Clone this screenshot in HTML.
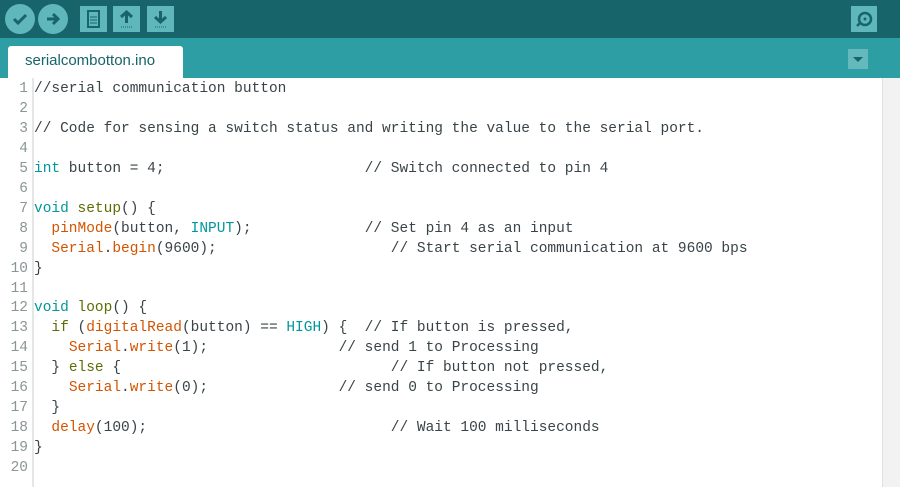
<!DOCTYPE html>
<html><head><style>
*{margin:0;padding:0;box-sizing:border-box}
body{width:900px;height:487px;overflow:hidden;background:#fff;position:relative;font-family:"Liberation Sans",sans-serif}
#tb{position:absolute;left:0;top:0;width:900px;height:38px;background:#17646a}
#tabs{position:absolute;left:0;top:38px;width:900px;height:40px;background:#2e9ea5}
.cb{position:absolute;top:4px;width:30px;height:30px;border-radius:50%;background:#5fb7bb}
.sb{position:absolute;top:6px;width:27px;height:26px;background:#5fb7bb}
#tab{position:absolute;left:8px;top:46px;width:175px;height:32px;background:#fff;border-radius:3px 3px 0 0;color:#17646a;font-size:15px;padding:6px 0 0 17px}
#dd{position:absolute;left:848px;top:49px;width:20px;height:20px;background:#64b9bd}
#ed{position:absolute;left:0;top:78px;width:882px;height:409px;background:#fff}
#sc{position:absolute;left:882px;top:78px;width:18px;height:409px;background:#f2f2f2;border-left:1px solid #e0e0e0}
#gut{position:absolute;left:32px;top:78px;width:2px;height:409px;background:#e6e6e6}
pre{position:absolute;top:80px;font-family:"Liberation Mono",monospace;font-size:14.5px;line-height:19.95px;color:#3a4448}
#ln{left:0;width:28px;text-align:right;color:#8a9597}
#code{left:34px}
.k{color:#00979c}.f{color:#5e6d03}.o{color:#d35400}
</style></head><body>
<div id="tb">
<div class="cb" style="left:5px"><svg width="30" height="30"><path d="M9 15l4 4 8-8" stroke="#17646a" stroke-width="3" fill="none"/></svg></div>
<div class="cb" style="left:38px"><svg width="30" height="30"><path d="M9 15h11M15 10l5 5-5 5" stroke="#17646a" stroke-width="3" fill="none"/></svg></div>
<div class="sb" style="left:80px"><svg width="27" height="26"><rect x="8" y="5" width="11" height="16" fill="none" stroke="#17646a" stroke-width="2"/><path d="M10 11h7M10 14h7M10 17h7" stroke="#17646a"/></svg></div>
<div class="sb" style="left:113px"><svg width="27" height="26"><path d="M13.5 6v11M8 11l5.5-5 5.5 5" stroke="#17646a" stroke-width="3" fill="none"/><path d="M8 21h11" stroke="#17646a" stroke-dasharray="1 1"/></svg></div>
<div class="sb" style="left:147px"><svg width="27" height="26"><path d="M13.5 5v11M8 11l5.5 5 5.5-5" stroke="#17646a" stroke-width="3" fill="none"/><path d="M8 21h11" stroke="#17646a" stroke-dasharray="1 1"/></svg></div>
<div class="sb" style="left:851px;width:26px"><svg width="26" height="26"><circle cx="14" cy="13" r="6" fill="none" stroke="#17646a" stroke-width="2.5"/><circle cx="14" cy="13" r="1.5" fill="#17646a"/><path d="M9 17l-3 3" stroke="#17646a" stroke-width="2.5"/></svg></div>
</div>
<div id="tabs"></div>
<div id="tab">serialcombotton.ino</div>
<div id="dd"><svg width="20" height="20"><path d="M5 8h10l-5 5z" fill="#17646a"/></svg></div>
<div id="ed"></div><div id="sc"></div><div id="gut"></div>
<pre id="ln">1
2
3
4
5
6
7
8
9
10
11
12
13
14
15
16
17
18
19
20</pre>
<pre id="code">//serial communication button

// Code for sensing a switch status and writing the value to the serial port.

<span class="k">int</span> button = 4;                       // Switch connected to pin 4

<span class="k">void</span> <span class="f">setup</span>() {
  <span class="o">pinMode</span>(button, <span class="k">INPUT</span>);             // Set pin 4 as an input
  <span class="o">Serial</span>.<span class="o">begin</span>(9600);                    // Start serial communication at 9600 bps
}

<span class="k">void</span> <span class="f">loop</span>() {
  <span class="f">if</span> (<span class="o">digitalRead</span>(button) == <span class="k">HIGH</span>) {  // If button is pressed,
    <span class="o">Serial</span>.<span class="o">write</span>(1);               // send 1 to Processing
  } <span class="f">else</span> {                               // If button not pressed,
    <span class="o">Serial</span>.<span class="o">write</span>(0);               // send 0 to Processing
  }
  <span class="o">delay</span>(100);                            // Wait 100 milliseconds
}
</pre>
</body></html>
